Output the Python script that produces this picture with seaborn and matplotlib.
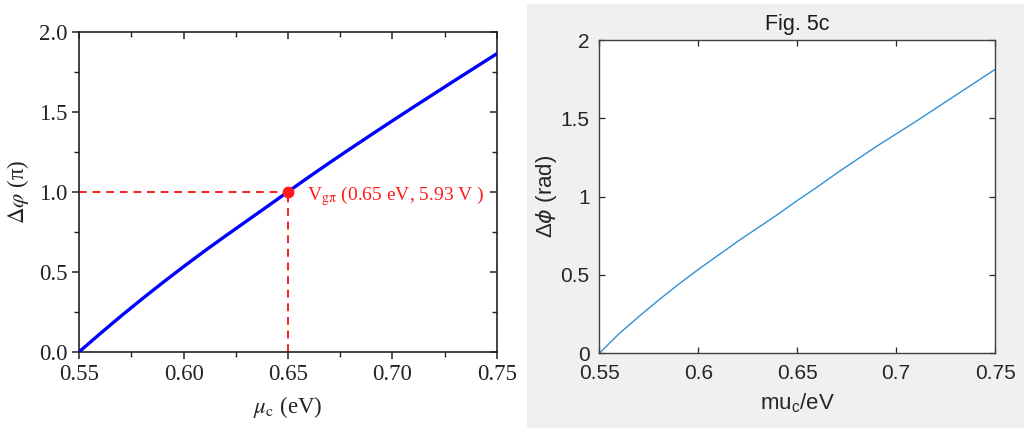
import numpy as np
import pandas as pd
import matplotlib
matplotlib.use("Agg")
import matplotlib.pyplot as plt
import seaborn as sns
from matplotlib.patches import Rectangle
from matplotlib.ticker import MultipleLocator, FixedLocator

# ---------------- data ----------------
mu_c = [0.55, 0.56, 0.57, 0.58, 0.59, 0.60, 0.61, 0.62, 0.63, 0.64, 0.65,
        0.66, 0.67, 0.68, 0.69, 0.70, 0.71, 0.72, 0.73, 0.74, 0.75]
dphi_pi = [0.0, 0.113, 0.223, 0.329, 0.432, 0.532, 0.629, 0.723, 0.815, 0.907, 1.0,
           1.092, 1.182, 1.270, 1.357, 1.443, 1.528, 1.612, 1.696, 1.779, 1.862]
dphi_rad = [0.0, 0.125, 0.235, 0.34, 0.44, 0.535, 0.625, 0.715, 0.80, 0.885, 0.975,
            1.06, 1.15, 1.235, 1.32, 1.40, 1.48, 1.563, 1.646, 1.729, 1.812]
mark_point = (0.65, 1.0)
mark_label = r"V$_{\rm g\pi}$ (0.65 eV, 5.93 V )"

left_xticks = [0.55, 0.60, 0.65, 0.70, 0.75]
left_yticks = [0.0, 0.5, 1.0, 1.5, 2.0]
right_xticks = [0.55, 0.6, 0.65, 0.7, 0.75]
right_xticklabels = ["0.55", "0.6", "0.65", "0.7", "0.75"]
right_yticks = [0, 0.5, 1, 1.5, 2]
right_yticklabels = ["0", "0.5", "1", "1.5", "2"]

df_left = pd.DataFrame({"mu": mu_c, "dphi": dphi_pi})
df_right = pd.DataFrame({"mu": mu_c, "dphi": dphi_rad})

# ---------------- style ----------------
sns.set_theme(style="ticks")
plt.rcParams["font.family"] = ["Liberation Serif", "DejaVu Serif"]
plt.rcParams["mathtext.fontset"] = "custom"
plt.rcParams["mathtext.rm"] = "Liberation Sans"
plt.rcParams["mathtext.it"] = "Liberation Sans:italic"

fig = plt.figure(figsize=(10.24, 4.32), dpi=100)
fig.patch.set_facecolor("white")
# grey MATLAB figure background for right panel
fig.patches.append(Rectangle((527 / 1024, 4 / 432), 497 / 1024, 424 / 432,
                             transform=fig.transFigure, facecolor="#f0f0f0",
                             edgecolor="none", zorder=-5))

# ---------------- left panel ----------------
axL = fig.add_axes([79.3 / 1024, (432 - 351.7) / 432, 417.4 / 1024, 320 / 432])
sns.lineplot(data=df_left, x="mu", y="dphi", ax=axL, color="#0000ff", lw=2.4,
             zorder=3, legend=False)
axL.plot([mu_c[0], mark_point[0]], [mark_point[1], mark_point[1]], ls=(0, (4, 3)),
         color="#ff1a1a", lw=1.4, zorder=2)
axL.plot([mark_point[0], mark_point[0]], [0, mark_point[1]], ls=(0, (4, 3)),
         color="#ff1a1a", lw=1.4, zorder=2)
axL.plot([mark_point[0]], [mark_point[1]], "o", color="#ff1a1a", ms=7.5, zorder=4)
axL.text(0.6591, 0.975, mark_label, color="#ff1a1a", fontsize=14, va="center",
         ha="left", math_fontfamily="stix")
axL.set_xlim(0.55, 0.75)
axL.set_ylim(0, 2.0)
axL.xaxis.set_major_locator(FixedLocator(left_xticks))
axL.yaxis.set_major_locator(FixedLocator(left_yticks))
axL.xaxis.set_minor_locator(MultipleLocator(0.025))
axL.yaxis.set_minor_locator(MultipleLocator(0.25))
axL.set_xticklabels([f"{v:.2f}" for v in left_xticks])
axL.set_yticklabels([f"{v:.1f}" for v in left_yticks])
for s in axL.spines.values():
    s.set_visible(True)
    s.set_color("#222222")
    s.set_linewidth(1.2)
axL.tick_params(which="both", direction="out", colors="#222222", labelsize=16.5,
                labelcolor="#222222")
axL.tick_params(which="major", length=5, width=1.1)
axL.tick_params(which="minor", length=3.5, width=1.0)
axL.tick_params(which="both", top=True, right=True)
# top/right ticks inward
for t in axL.xaxis.get_major_ticks() + axL.xaxis.get_minor_ticks():
    t.tick2line.set_marker(3)  # TICKDOWN
for t in axL.yaxis.get_major_ticks() + axL.yaxis.get_minor_ticks():
    t.tick2line.set_marker(0)  # TICKLEFT
axL.set_xlabel(r"$\mu_{\rm c}$ (eV)", fontsize=16.5, color="#222222",
               math_fontfamily="stix", labelpad=7)
axL.set_ylabel(r"$\Delta\varphi$ (π)", fontsize=16.5, color="#222222",
               math_fontfamily="stix", labelpad=6)

# ---------------- right panel ----------------
axR = fig.add_axes([599.3 / 1024, (432 - 353.3) / 432, 395.7 / 1024, 313.3 / 432])
axR.set_facecolor("white")
sns.lineplot(data=df_right, x="mu", y="dphi", ax=axR, color="#3390d4", lw=1.0,
             legend=False)
axR.set_xlim(0.55, 0.75)
axR.set_ylim(0, 2)
axR.set_xticks(right_xticks)
axR.set_xticklabels(right_xticklabels)
axR.set_yticks(right_yticks)
axR.set_yticklabels(right_yticklabels)
sans = ["Liberation Sans", "DejaVu Sans"]
for lab in axR.get_xticklabels() + axR.get_yticklabels():
    lab.set_family(sans)
for s in axR.spines.values():
    s.set_visible(True)
    s.set_color("#404040")
    s.set_linewidth(1.0)
axR.tick_params(which="both", direction="in", length=4, width=0.9, colors="#262626",
                labelsize=15, top=True, right=True)
axR.tick_params(axis="x", pad=8)
axR.tick_params(axis="y", pad=7)
axR.set_title("Fig. 5c", fontsize=15.5, family=sans, color="#1a1a1a", pad=7)
axR.set_xlabel(r"mu$_{\rm c}$/eV", fontsize=16, family=sans, color="#262626",
               labelpad=6)
axR.set_ylabel(r"Δ$\phi$ (rad)", fontsize=16, family=sans, color="#262626",
               labelpad=1, math_fontfamily="dejavusans")

fig.savefig("out.png", dpi=100, facecolor=fig.get_facecolor())
